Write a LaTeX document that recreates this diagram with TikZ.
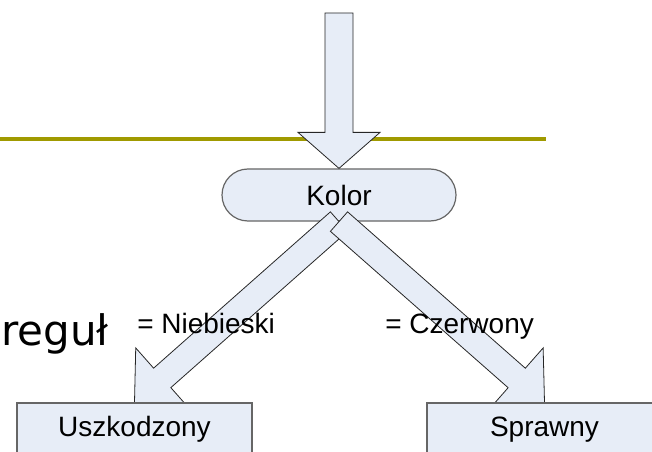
\documentclass[tikz,border=0pt]{standalone}
\usepackage{fontspec}
\setmainfont{Liberation Sans}
\newfontfamily\bodyfont{DejaVu Sans}
\usetikzlibrary{calc}

\definecolor{boxfill}{RGB}{231,237,247}
\definecolor{rulecolor}{RGB}{160,154,0}

\pgfdeclarelayer{back}
\pgfdeclarelayer{mid}
\pgfsetlayers{back,mid,main}

\tikzset{
  box/.style={draw=black!60, line width=0.9pt, fill=boxfill, inner sep=0pt,
              font=\fontsize{21}{25}\selectfont},
  decision/.style={box, rounded corners=19.5pt, minimum width=175.5pt, minimum height=39pt},
  leaf/.style={box, minimum width=176.25pt, minimum height=39.75pt},
  blockarrow/.style={draw=black!85, line width=0.6pt, fill=boxfill, line join=miter},
  edgelabel/.style={inner sep=0pt, anchor=base west, font=\fontsize{21}{25}\selectfont},
}

% block arrow: #1 from, #2 to, #3 shaft half width, #4 head half width, #5 head length
\newcommand{\blockarrow}[5]{%
  \coordinate (ba-c) at ($(#2)!#5!(#1)$);
  \draw[blockarrow]
    ($(#1)!#3!90:(#2)$) -- ($(ba-c)!#3!90:(#2)$) -- ($(ba-c)!#4!90:(#2)$) --
    (#2) --
    ($(ba-c)!#4!-90:(#2)$) -- ($(ba-c)!#3!-90:(#2)$) -- ($(#1)!#3!-90:(#2)$) -- cycle;
}

\begin{document}
\begin{tikzpicture}[x=0.75pt, y=-0.75pt]
  \useasboundingbox (0,0) rectangle (652,452);
  \clip (0,0) rectangle (652,452);

  \begin{pgfonlayer}{back}
    % slide title rule
    \draw[rulecolor, line width=2.7pt] (0,139) -- (546,139);
    \node[decision] (kolor) at (339,195) {Kolor};
  \end{pgfonlayer}

  \node[leaf] (uszk) at (134.5,429.5) {Uszkodzony};
  \node[leaf] (spraw) at (544.5,429.5) {Sprawny};

  \coordinate (src) at (339,13);

  \begin{pgfonlayer}{mid}
    \blockarrow{src}{kolor.north}{10.5pt}{30.75pt}{27pt}
    \blockarrow{kolor.south}{uszk.north}{9.75pt}{30pt}{27.75pt}
    \blockarrow{kolor.south}{spraw.north}{9.75pt}{30pt}{27.75pt}
  \end{pgfonlayer}

  \node[edgelabel] (lblue) at (137,333) {= Niebieski};
  \node[edgelabel] (lred) at (385,333) {= Czerwony};

  \node[inner sep=0pt, anchor=base west, font=\bodyfont\fontsize{31.5}{38}\selectfont]
    (rules) at (1,345) {reguł};
\end{tikzpicture}
\end{document}
